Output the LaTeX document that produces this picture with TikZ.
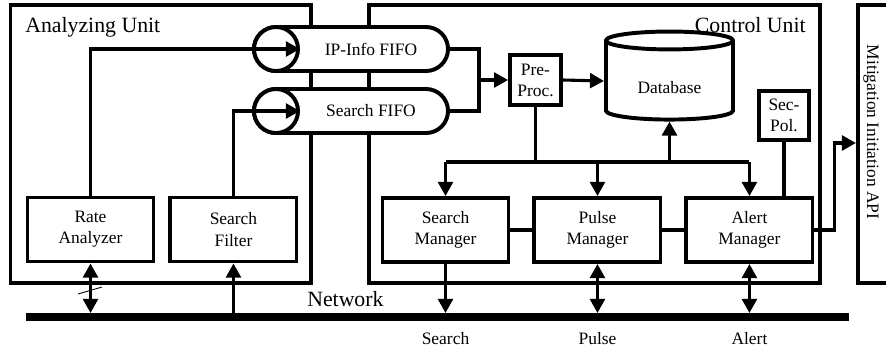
\documentclass[tikz,border=0pt]{standalone}
\usepackage{fontspec}
\setmainfont{Liberation Serif}
\usepackage{tikz}
\usetikzlibrary{arrows.meta}
\usetikzlibrary{shapes.geometric}
\usetikzlibrary{positioning}
\newcommand{\mSmall}{\fontsize{12.4}{15}\selectfont}
\newcommand{\mBig}{\fontsize{15.5}{18}\selectfont}
\newcommand{\fifo}[4]{\node[pill,label={[font=\mSmall,xshift=0.5cm]center:#4}] (#1) at (351,#3) {};
    \node[inlet] (#2) at (276,#3) {}}
\newcommand{\busdown}[1]{\draw[->,link] (#1.north |- bus) -- (#1.north)}

\begin{document}
\begin{tikzpicture}[x=0.025cm,y=-0.025cm,
    >={Triangle[length=10pt,width=10.5pt]},
    every node/.style={font=\mSmall},
    unit/.style={line width=2.8pt},
    link/.style={line width=2.2pt},
    block/.style={draw,line width=2.8pt,fill=white,align=center,inner sep=0pt,
        minimum width=3.15cm,minimum height=1.6cm},
    small block/.style={block,minimum width=1.27cm,minimum height=1.24cm},
    pill/.style={draw,line width=2.8pt,fill=white,rounded corners=0.55cm,
        minimum width=4.85cm,minimum height=1.1cm,inner sep=0pt},
    inlet/.style={draw,circle,line width=2.8pt,fill=white,minimum size=1.1cm,inner sep=0pt}]
    \useasboundingbox (0,0) rectangle (886,351);
    % units
    \draw[unit] (10.5,5) rectangle (311,283);
    \node[anchor=base west,font=\mBig,inner sep=0pt] (au) at (25,32) {Analyzing Unit};
    \draw[unit] (369,5) rectangle (820,283);
    \node[anchor=base east,font=\mBig,inner sep=0pt] (cu) at (806,32) {Control Unit};
    \draw[unit] (890,5) -- (858,5) -- (858,283) -- (890,283);
    \node[rotate=-90] (mit) at (871,132) {Mitigation Initiation API};
    \coordinate (mitin) at (856,143);
    % network
    \node[fill,inner sep=0pt,outer sep=0pt,minimum width=20.575cm,minimum height=0.2cm] (net) at (437.5,317) {};
    \node[anchor=base west,font=\mBig,inner sep=0pt] (nw) at (307,306) {Network};
    % analyzing unit
    \node[block] (ra) at (90.5,229.5) {Rate\\Analyzer};
    \node[block,right=0.325cm of ra] (sf) {Search\\Filter};
    \fifo{ipf}{ipc}{49}{IP-Info FIFO};
    \fifo{sff}{sfc}{111}{Search FIFO};
    \draw[->,link] (ra.north) |- (ipc.east);
    \draw[->,link] (sf.north) |- (sfc.east);
    \draw[<->,link] (ra.south) -- (ra.south |- net.north);
    \draw[line width=0.6pt] (78,294) -- (102,287);
    \draw[->,link] (sf.south |- net.north) -- (sf.south);
    % control unit
    \node[small block] (pp) at (535.5,80) {Pre-\\Proc.};
    \node[draw,cylinder,shape border rotate=90,aspect=0.28,line width=2.8pt,fill=white,
        minimum width=3.175cm,minimum height=2.2cm,inner sep=0pt,
        text height=0.64cm,text depth=0pt] (db) at (669.5,81) {Database};
    \node[small block] (sp) at (784,115.5) {Sec-\\Pol.};
    \node[block] (sm) at (445.5,230) {Search\\Manager};
    \node[block,right=0.55cm of sm] (pm) {Pulse\\Manager};
    \node[block,right=0.55cm of pm] (am) {Alert\\Manager};
    \coordinate (mrg) at (479,80);
    \coordinate (bus) at (0,162);
    \draw[link] (ipf.east) -| (mrg) |- (sff.east);
    \draw[->,link] (mrg) -- (pp.west);
    \draw[->,link] (pp.east) -- (db.west);
    \draw[link] (pp.south) -- (pp.south |- bus);
    \draw[link] (sm.north |- bus) -- (am.north |- bus);
    \busdown{sm};
    \busdown{pm};
    \busdown{am};
    \draw[->,line width=2.8pt] (db.south |- bus) -- (db.south);
    \draw[link] (sp.south) -- (sp.south |- am.north);
    \draw[link] (sm.east) -- (pm.west);
    \draw[link] (pm.east) -- (am.west);
    \draw[->,link] (am.east) -- ++(20,0) |- (mitin);
    \draw[->,link] (sm.south) -- (sm.south |- net.north);
    \draw[<->,link] (pm.south) -- (pm.south |- net.north);
    \draw[<->,link] (am.south) -- (am.south |- net.north);
    \node[anchor=base] (lsrch) at (sm.south |- 0,344) {Search};
    \node[anchor=base] (lpuls) at (pm.south |- 0,344) {Pulse};
    \node[anchor=base] (lalrt) at (am.south |- 0,344) {Alert};
\end{tikzpicture}
\end{document}
